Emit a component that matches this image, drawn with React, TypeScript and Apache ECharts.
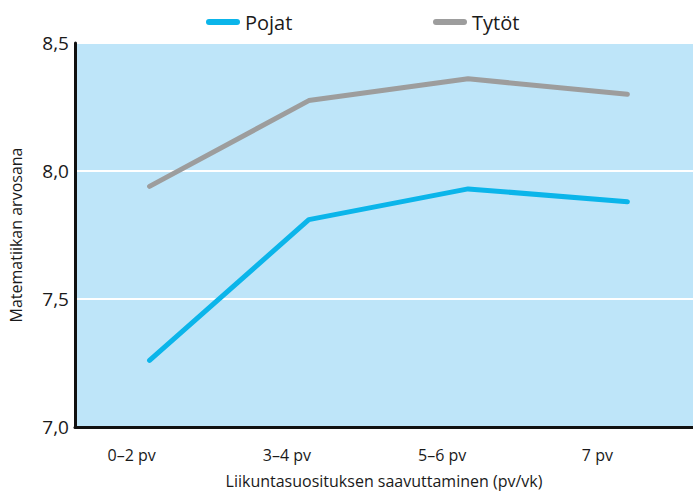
import React, { useEffect, useRef } from "react";
import * as echarts from "echarts";

const categories = ["0–2 pv", "3–4 pv", "5–6 pv", "7 pv"];
const pojat = [7.26, 7.81, 7.93, 7.88];
const tytot = [7.94, 8.275, 8.36, 8.3];
const yTicks = { min: 7, max: 8.5, interval: 0.5 };

const FONT = "'Open Sans', 'Noto Sans', sans-serif";
const BLUE = "#0bb5ea";
const GRAY = "#9d9d9d";
const BG = "#bee5f9";
const ICON = "path://M3,0 H31 A3,3 0 0 1 31,6 H3 A3,3 0 0 1 3,0 Z";

export default function App() {
  const ref = useRef<HTMLDivElement>(null);
  useEffect(() => {
    if (!ref.current) return;
    const chart = echarts.init(ref.current, undefined, { renderer: "svg" });
    const legendBase = {
      top: 5,
      itemWidth: 34,
      itemHeight: 6,
      icon: ICON,
      textStyle: { fontFamily: FONT, fontSize: 20, color: "#1a1a1a", lineHeight: 24 },
    };
    chart.setOption({
      animation: false,
      backgroundColor: "#ffffff",
      textStyle: { fontFamily: FONT },
      legend: [
        { ...legendBase, left: 201, data: ["Pojat"] },
        { ...legendBase, left: 428, data: ["Tytöt"] },
      ],
      grid: [
        { left: 71, right: 0, top: 43, bottom: 67, show: true, backgroundColor: BG, borderWidth: 0 },
        { left: 54, right: 18, top: 43, bottom: 67, show: false },
      ],
      xAxis: [
        {
          type: "value",
          gridIndex: 0,
          min: -0.468,
          max: 3.412,
          axisLine: { show: true, onZero: false, lineStyle: { color: "#111", width: 3 } },
          axisTick: { show: false },
          axisLabel: { show: false },
          splitLine: { show: false },
          name: "Liikuntasuosituksen saavuttaminen (pv/vk)",
          nameLocation: "middle",
          nameGap: 46,
          nameTextStyle: { fontFamily: FONT, fontSize: 16, color: "#1a1a1a" },
        },
        {
          type: "category",
          gridIndex: 1,
          data: categories,
          boundaryGap: true,
          axisLine: { show: false },
          axisTick: { show: false },
          axisLabel: { margin: 20, fontFamily: FONT, fontSize: 16, color: "#1a1a1a" },
          splitLine: { show: false },
        },
      ],
      yAxis: [
        {
          type: "value",
          gridIndex: 0,
          min: yTicks.min,
          max: yTicks.max,
          interval: yTicks.interval,
          axisLine: { show: true, onZero: false, lineStyle: { color: "#111", width: 3 } },
          axisTick: { show: false },
          axisLabel: {
            margin: 6,
            fontFamily: FONT,
            fontSize: 19,
            color: "#1a1a1a",
            formatter: (v: number) => v.toFixed(1).replace(".", ","),
          },
          splitLine: { show: true, lineStyle: { color: "#ffffff", width: 2 } },
          name: "Matematiikan arvosana",
          nameLocation: "middle",
          nameGap: 51,
          nameTextStyle: { fontFamily: FONT, fontSize: 16, color: "#1a1a1a" },
        },
        {
          type: "value",
          gridIndex: 1,
          show: false,
          min: yTicks.min,
          max: yTicks.max,
        },
      ],
      series: [
        {
          name: "Pojat",
          type: "line",
          xAxisIndex: 0,
          yAxisIndex: 0,
          data: categories.map((_, i) => [i, pojat[i]]),
          symbol: "none",
          itemStyle: { color: BLUE },
          lineStyle: { color: BLUE, width: 5, cap: "round", join: "round" },
        },
        {
          name: "Tytöt",
          type: "line",
          xAxisIndex: 0,
          yAxisIndex: 0,
          data: categories.map((_, i) => [i, tytot[i]]),
          symbol: "none",
          itemStyle: { color: GRAY },
          lineStyle: { color: GRAY, width: 5, cap: "round", join: "round" },
        },
      ],
    });
    return () => chart.dispose();
  }, []);
  return (
    <div
      ref={ref}
      style={{ position: "fixed", left: 0, top: 0, width: 693, height: 494 }}
    />
  );
}
